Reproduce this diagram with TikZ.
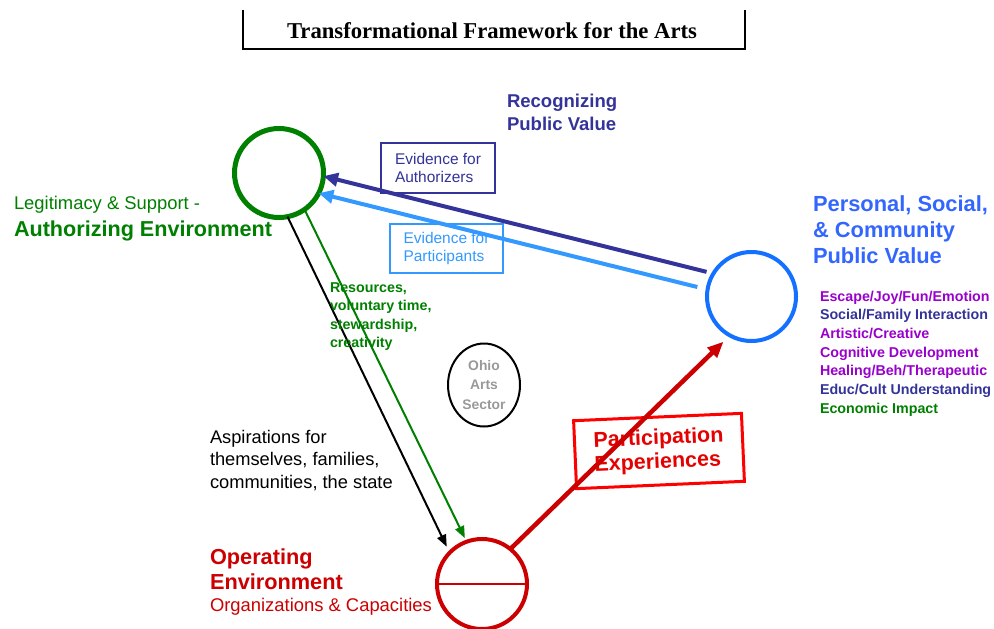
\documentclass[tikz,border=0pt]{standalone}
\usepackage{fontspec}
\setmainfont{Liberation Sans}
\newfontfamily\titlefont{Liberation Serif}
\usetikzlibrary{arrows.meta,shapes.geometric}
\definecolor{dblue}{HTML}{333399}
\definecolor{lblue}{HTML}{3399FF}
\definecolor{cblue}{HTML}{1470FF}
\definecolor{pblue}{HTML}{3366FF}
\definecolor{dgreen}{HTML}{008000}
\definecolor{purp}{HTML}{9900CC}
\definecolor{dred}{HTML}{CC0000}
\definecolor{bred}{HTML}{FF0000}
\definecolor{tred}{HTML}{E60000}
\definecolor{gtext}{HTML}{999999}
\begin{document}
\begin{tikzpicture}[x=0.75pt,y=-0.75pt,
  lbl/.style={inner sep=0pt, outer sep=0pt, align=left, anchor=north west},
  ring/.style={circle, inner sep=0pt, outer sep=0pt, minimum size=#1},
  thickarrow/.style={line width=3pt, -{Triangle[length=11pt,width=10pt]}},
  thinarrow/.style={line width=1.5pt, -{Triangle[length=9pt,width=7pt]}},
  evbox/.style={draw, line width=1.5pt, inner sep=0pt, outer sep=0pt, align=left, font=\fontsize{11.6pt}{13.9pt}\selectfont}
]
\useasboundingbox[fill=white] (0,0) rectangle (994,628);

% title
\node[inner sep=0pt, font=\titlefont\bfseries\fontsize{17pt}{20pt}\selectfont] (title) at (492,31) {Transformational Framework for the Arts};
\coordinate (tl) at (243,10);
\coordinate (tr) at (745,10);
\draw[line width=1.5pt] (tl) -- (tl |- 0,49) -- (tr |- 0,49) -- (tr);

% circles
\node[ring=66.75pt, draw=dgreen, line width=3.75pt] (auth) at (279,173) {};
\node[ring=66.75pt, draw=cblue, line width=3pt] (pv) at (751.5,296.5) {};
\node[ring=67.5pt, draw=dred, line width=3pt] (oper) at (482,584) {};
\draw[dred, line width=1.2pt] (oper.west) -- (oper.east);
\node[ellipse, draw=black, line width=1.5pt, inner sep=0pt, outer sep=0pt, minimum width=54pt, minimum height=62.25pt, align=center, text=gtext, font=\bfseries\fontsize{10.4pt}{14.3pt}\selectfont] (ohio) at (484,385) {Ohio\\Arts\\Sector};

% evidence boxes
\node[evbox, draw=dblue, text=dblue, minimum width=85.5pt, minimum height=37.5pt] (evA) at (438,168) {Evidence for\\Authorizers};
\node[evbox, draw=lblue, text=lblue, minimum width=84.75pt, minimum height=36.75pt] (evP) at (446.5,248.5) {Evidence for\\Participants};

% participation box
\node[draw=bred, line width=2.25pt, rotate=2.5, minimum width=126pt, minimum height=51pt, inner sep=0pt, align=left, text=tred, font=\bfseries\fontsize{16.1pt}{18pt}\selectfont] (part) at (659,451) {Participation\\Experiences};

% connectors
\draw[thickarrow, dblue, shorten <=5.25pt] (pv.149.2) -- (auth.-4.8);
\draw[thickarrow, lblue, shorten <=7.9pt] (pv.171.1) -- (auth.-27.1);
\draw[thinarrow, black, shorten >=5pt] (auth.-79.6) -- (oper.136.2);
\draw[thinarrow, dgreen, shorten >=3pt] (auth.-55.4) -- (oper.110.3);
\draw[line width=3.4pt, dred, -{Triangle[length=12pt,width=10pt]}, shorten >=6.75pt] (oper.51) -- (pv.-119.7);

% texts
\node[lbl, text=dblue, font=\bfseries\fontsize{13.9pt}{17.3pt}\selectfont] (recog) at (507,94.2) {Recognizing\\Public Value};
\node[lbl, text=pblue, font=\bfseries\fontsize{16.4pt}{19.5pt}\selectfont] (pvtitle) at (813,196) {Personal, Social,\\\& Community\\Public Value};
\node[lbl, font=\bfseries\fontsize{10.7pt}{14pt}\selectfont] (vals) at (820,290.7) {\textcolor{purp}{Escape/Joy/Fun/Emotion}\\\textcolor{dblue}{Social/Family Interaction}\\\textcolor{purp}{Artistic/Creative}\\\textcolor{purp}{Cognitive Development}\\\textcolor{purp}{Healing/Beh/Therapeutic}\\\textcolor{dblue}{Educ/Cult Understanding}\\\textcolor{dgreen}{Economic Impact}};
\node[lbl, text=dgreen, font=\fontsize{13.8pt}{16pt}\selectfont] (legit) at (14,196.2) {Legitimacy \& Support -};
\node[lbl, text=dgreen, font=\bfseries\fontsize{16.2pt}{19pt}\selectfont] (authtxt) at (14,221) {Authorizing Environment};
\node[lbl, text=dgreen, font=\bfseries\fontsize{10.7pt}{13.7pt}\selectfont] (res) at (330,282.7) {Resources,\\voluntary time,\\stewardship,\\creativity};
\node[lbl, font=\fontsize{13.7pt}{16.9pt}\selectfont] (asp) at (210,430.2) {Aspirations for\\themselves, families,\\communities, the state};
\node[lbl, text=dred, font=\bfseries\fontsize{16.3pt}{18.75pt}\selectfont] (optxt) at (210,549) {Operating\\Environment};
\node[lbl, text=dred, font=\fontsize{13.8pt}{16pt}\selectfont] (orgs) at (210,598.2) {Organizations \& Capacities};
\end{tikzpicture}
\end{document}
